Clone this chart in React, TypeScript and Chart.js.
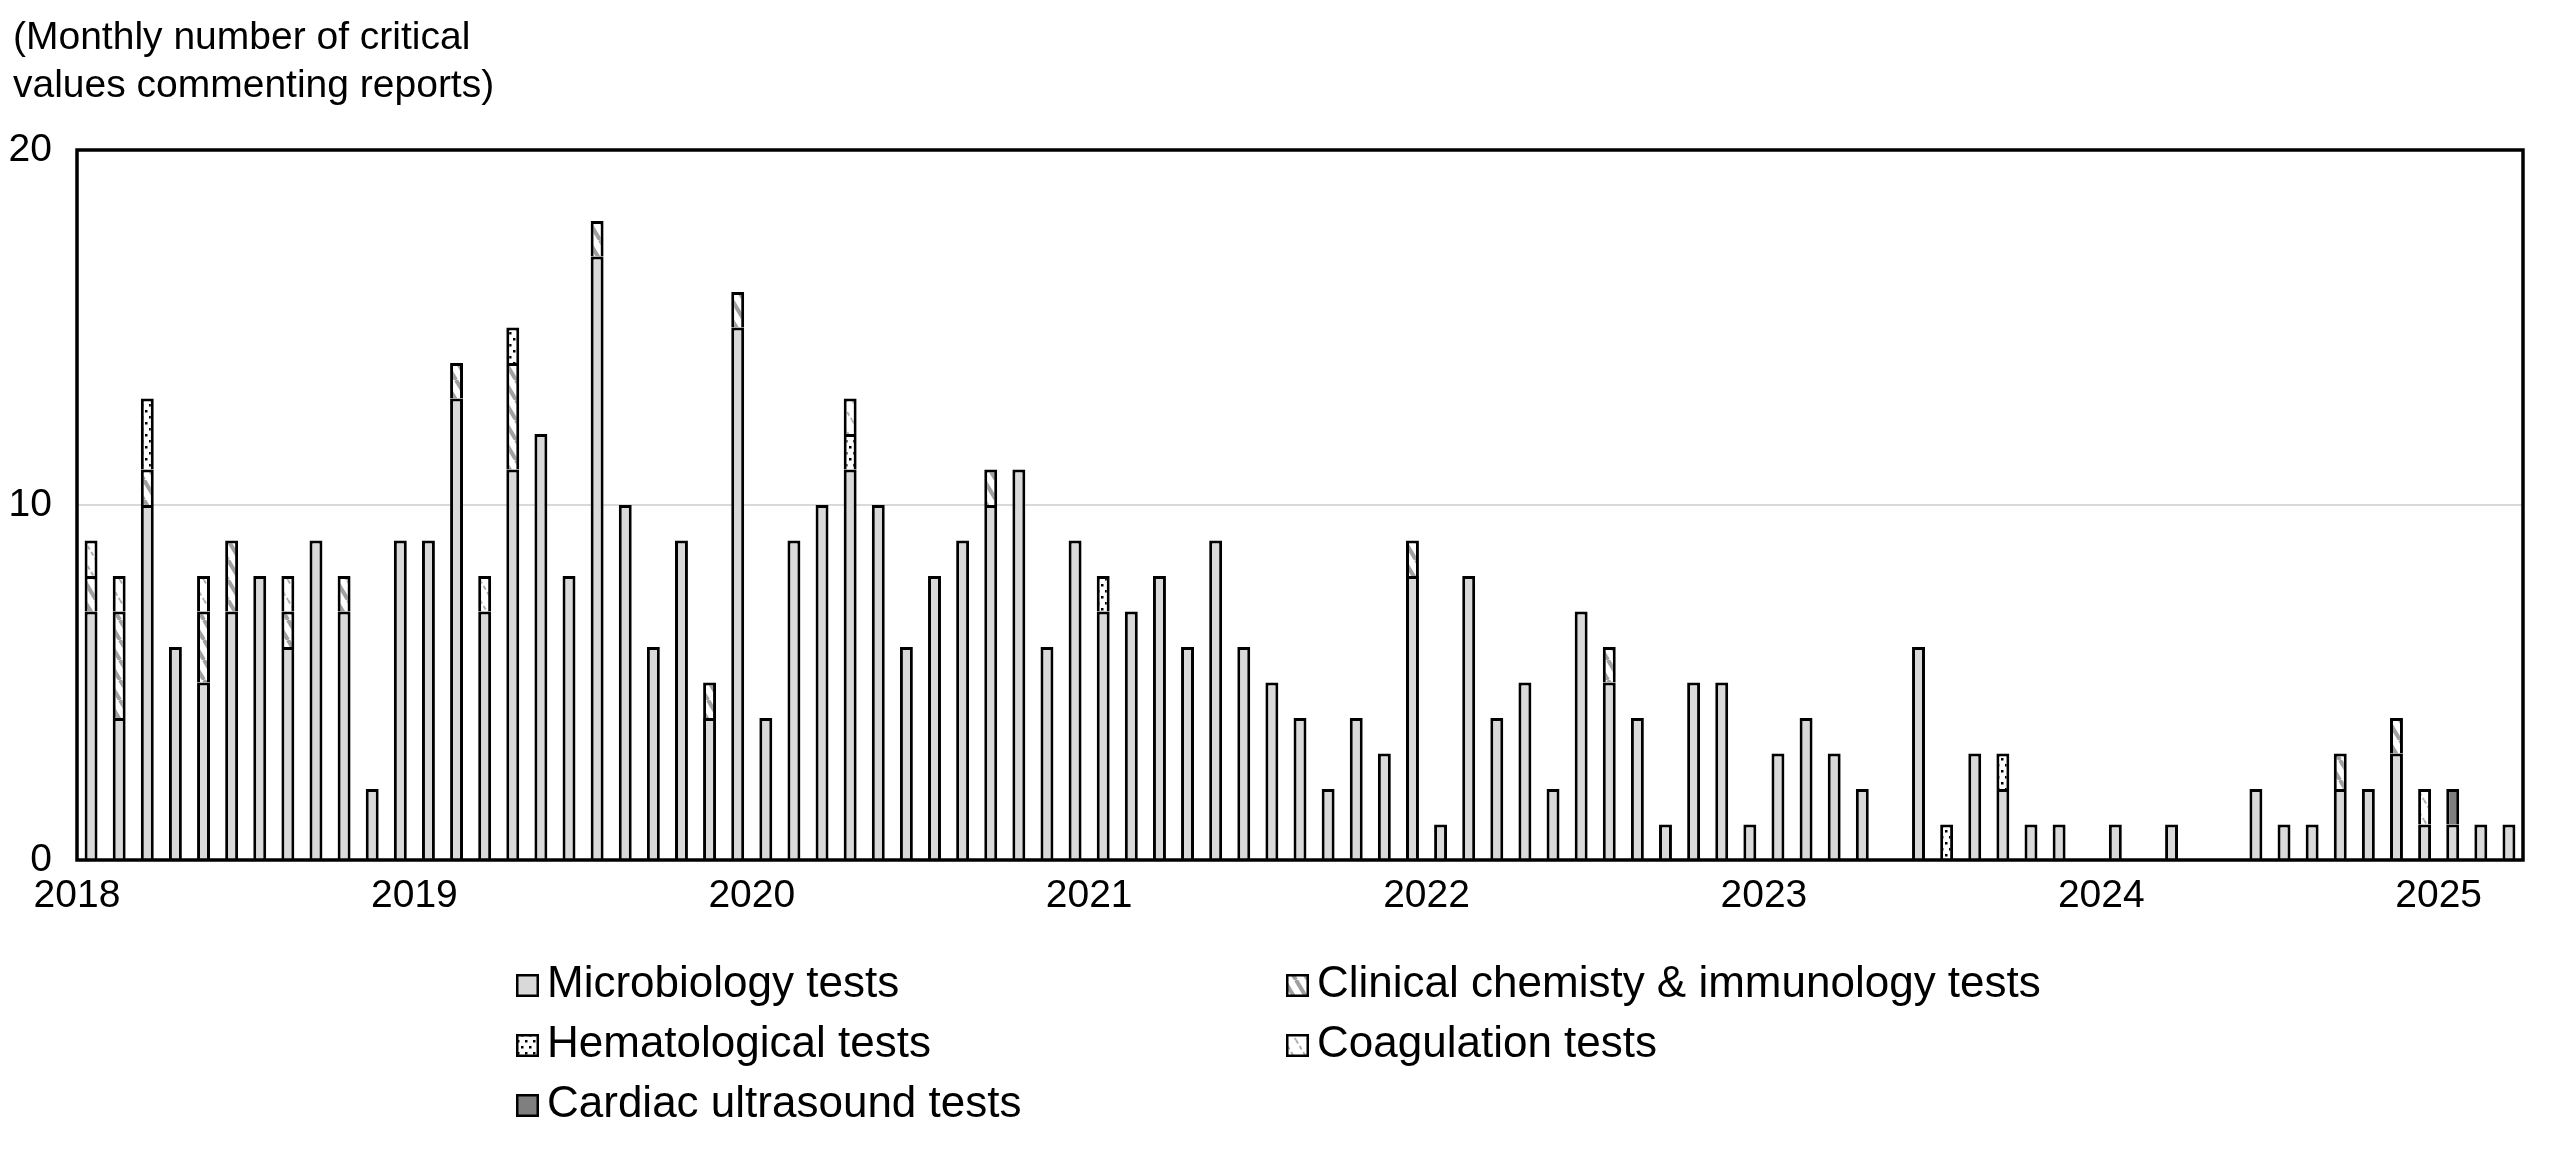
import { useEffect, useRef } from 'react';
import { Chart, registerables } from 'chart.js';

Chart.register(...registerables);

const FONT = '"Liberation Sans", Arial, Helvetica, sans-serif';

// one value per month, Jan 2018 .. Mar 2025
const yearTicks = ['2018', '2019', '2020', '2021', '2022', '2023', '2024', '2025'];

const microbiology = [
    7, 4, 10, 6, 5, 7, 8, 6, 9, 7, 2, 9,
    9, 13, 7, 11, 12, 8, 17, 10, 6, 9, 4, 15,
    4, 9, 10, 11, 10, 6, 8, 9, 10, 11, 6, 9,
    7, 7, 8, 6, 9, 6, 5, 4, 2, 4, 3, 8,
    1, 8, 4, 5, 2, 7, 5, 4, 1, 5, 5, 1,
    3, 4, 3, 2, 0, 6, 0, 3, 2, 1, 1, 0,
    1, 0, 1, 0, 0, 2, 1, 1, 2, 2, 3, 1,
    1, 1, 1,
];
const chemistry = [
    1, 3, 1, 0, 2, 2, 0, 1, 0, 1, 0, 0,
    0, 1, 0, 3, 0, 0, 1, 0, 0, 0, 1, 1,
    0, 0, 0, 0, 0, 0, 0, 0, 1, 0, 0, 0,
    0, 0, 0, 0, 0, 0, 0, 0, 0, 0, 0, 1,
    0, 0, 0, 0, 0, 0, 1, 0, 0, 0, 0, 0,
    0, 0, 0, 0, 0, 0, 0, 0, 0, 0, 0, 0,
    0, 0, 0, 0, 0, 0, 0, 0, 1, 0, 1, 0,
    0, 0, 0,
];
const hematology = [
    0, 0, 2, 0, 0, 0, 0, 0, 0, 0, 0, 0,
    0, 0, 0, 1, 0, 0, 0, 0, 0, 0, 0, 0,
    0, 0, 0, 1, 0, 0, 0, 0, 0, 0, 0, 0,
    1, 0, 0, 0, 0, 0, 0, 0, 0, 0, 0, 0,
    0, 0, 0, 0, 0, 0, 0, 0, 0, 0, 0, 0,
    0, 0, 0, 0, 0, 0, 1, 0, 1, 0, 0, 0,
    0, 0, 0, 0, 0, 0, 0, 0, 0, 0, 0, 0,
    0, 0, 0,
];
const coagulation = [
    1, 1, 0, 0, 1, 0, 0, 1, 0, 0, 0, 0,
    0, 0, 1, 0, 0, 0, 0, 0, 0, 0, 0, 0,
    0, 0, 0, 1, 0, 0, 0, 0, 0, 0, 0, 0,
    0, 0, 0, 0, 0, 0, 0, 0, 0, 0, 0, 0,
    0, 0, 0, 0, 0, 0, 0, 0, 0, 0, 0, 0,
    0, 0, 0, 0, 0, 0, 0, 0, 0, 0, 0, 0,
    0, 0, 0, 0, 0, 0, 0, 0, 0, 0, 0, 1,
    0, 0, 0,
];
const cardiacUltrasound = [
    0, 0, 0, 0, 0, 0, 0, 0, 0, 0, 0, 0,
    0, 0, 0, 0, 0, 0, 0, 0, 0, 0, 0, 0,
    0, 0, 0, 0, 0, 0, 0, 0, 0, 0, 0, 0,
    0, 0, 0, 0, 0, 0, 0, 0, 0, 0, 0, 0,
    0, 0, 0, 0, 0, 0, 0, 0, 0, 0, 0, 0,
    0, 0, 0, 0, 0, 0, 0, 0, 0, 0, 0, 0,
    0, 0, 0, 0, 0, 0, 0, 0, 0, 0, 0, 0,
    1, 0, 0,
];

const titleLines = ['(Monthly number of critical', 'values commenting reports)'];

function makePattern(w: number, h: number, draw: (ctx: CanvasRenderingContext2D) => void) {
    const c = document.createElement('canvas');
    c.width = w;
    c.height = h;
    const ctx = c.getContext('2d')!;
    ctx.fillStyle = '#ffffff';
    ctx.fillRect(0, 0, w, h);
    draw(ctx);
    return ctx.createPattern(c, 'repeat')!;
}

function stripes(color: string, width: number, dash: number[]) {
    return makePattern(12, 20, (ctx) => {
        ctx.strokeStyle = color;
        ctx.lineWidth = width;
        ctx.setLineDash(dash);
        for (const x0 of [-12, 0, 12]) {
            ctx.beginPath();
            ctx.moveTo(x0, 0);
            ctx.lineTo(x0 + 12, 20);
            ctx.stroke();
        }
    });
}

function dots() {
    return makePattern(8, 12, (ctx) => {
        ctx.fillStyle = '#000000';
        ctx.fillRect(1, 2, 2.5, 2.5);
        ctx.fillRect(5, 8, 2.5, 2.5);
    });
}

const toPoints = (values: number[]) => values.map((v, i) => ({ x: i + 0.5, y: v === 0 ? null : v }));

const framePlugin = {
    id: 'frame',
    afterDatasetsDraw(chart: any) {
        const { ctx, chartArea: a } = chart;
        ctx.save();
        ctx.strokeStyle = '#000000';
        ctx.lineWidth = 3.5;
        ctx.strokeRect(a.left, a.top, a.right - a.left, a.bottom - a.top);
        ctx.restore();
    },
};

const textPlugin = {
    id: 'texts',
    afterDraw(chart: any) {
        const ctx = chart.ctx;
        ctx.save();
        ctx.fillStyle = '#000000';
        ctx.textBaseline = 'alphabetic';
        ctx.font = `39px ${FONT}`;
        titleLines.forEach((t, i) => ctx.fillText(t, 13, 49 + i * 48));

        // legend: two columns, row major
        const cols = [516, 1286];
        chart.data.datasets.forEach((ds: any, i: number) => {
            const x = cols[i % 2];
            const base = 997 + Math.floor(i / 2) * 60;
            ctx.fillStyle = ds.backgroundColor;
            ctx.fillRect(x, base - 23, 23, 23);
            ctx.strokeStyle = '#000000';
            ctx.lineWidth = 2.5;
            ctx.strokeRect(x + 1.25, base - 21.75, 20.5, 20.5);
            ctx.fillStyle = '#000000';
            ctx.font = `44px ${FONT}`;
            ctx.fillText(ds.label, x + 31, base);
        });
        ctx.restore();
    },
};

export default function App() {
    const chartRef = useRef<HTMLCanvasElement>(null);

    useEffect(() => {
        if (!chartRef.current) return;

        const common = {
            borderColor: '#000000',
            borderWidth: 3,
            borderSkipped: 'start',
            barPercentage: 0.46,
            categoryPercentage: 1,
        };

        const chart = new Chart(chartRef.current, {
            type: 'bar',
            data: {
                datasets: [
                    { ...common, label: 'Microbiology tests', data: toPoints(microbiology), backgroundColor: '#d9d9d9' },
                    { ...common, label: 'Clinical chemisty & immunology tests', data: toPoints(chemistry), backgroundColor: stripes('#a0a0a0', 4, []) },
                    { ...common, label: 'Hematological tests', data: toPoints(hematology), backgroundColor: dots() },
                    { ...common, label: 'Coagulation tests', data: toPoints(coagulation), backgroundColor: stripes('#b0b0b0', 2, [4, 3]) },
                    { ...common, label: 'Cardiac ultrasound tests', data: toPoints(cardiacUltrasound), backgroundColor: '#7f7f7f' },
                ],
            },
            options: {
                animation: false,
                responsive: true,
                maintainAspectRatio: false,
                layout: { padding: { left: 0, right: 37, top: 150, bottom: 240 } },
                plugins: {
                    legend: { display: false },
                    tooltip: { enabled: false },
                },
                scales: {
                    x: {
                        type: 'linear',
                        stacked: true,
                        min: 0,
                        max: 87,
                        offset: false,
                        grid: { display: false, drawTicks: false },
                        border: { display: false },
                        ticks: {
                            stepSize: 12,
                            includeBounds: false,
                            autoSkip: false,
                            maxRotation: 0,
                            padding: 13,
                            color: '#000000',
                            font: { family: FONT, size: 39 },
                            callback: (v: any) => yearTicks[Math.round(Number(v) / 12)] ?? '',
                        },
                        afterFit: (scale: any) => { scale.height = 70; },
                    },
                    y: {
                        stacked: true,
                        min: 0,
                        max: 20,
                        grid: {
                            drawTicks: false,
                            lineWidth: 2,
                            color: (c: any) => (c.tick && c.tick.value === 10 ? '#d9d9d9' : 'rgba(0,0,0,0)'),
                        },
                        border: { display: false },
                        ticks: {
                            stepSize: 10,
                            padding: 25,
                            color: '#000000',
                            font: { family: FONT, size: 39 },
                        },
                        afterFit: (scale: any) => { scale.width = 77; },
                    },
                },
            },
            plugins: [framePlugin, textPlugin],
        } as any);

        return () => {
            chart.destroy();
        };
    }, []);

    return (
        <div style={{ position: 'absolute', left: 0, top: 0, width: 2560, height: 1170, background: '#fff' }}>
            <canvas ref={chartRef}></canvas>
        </div>
    );
}
